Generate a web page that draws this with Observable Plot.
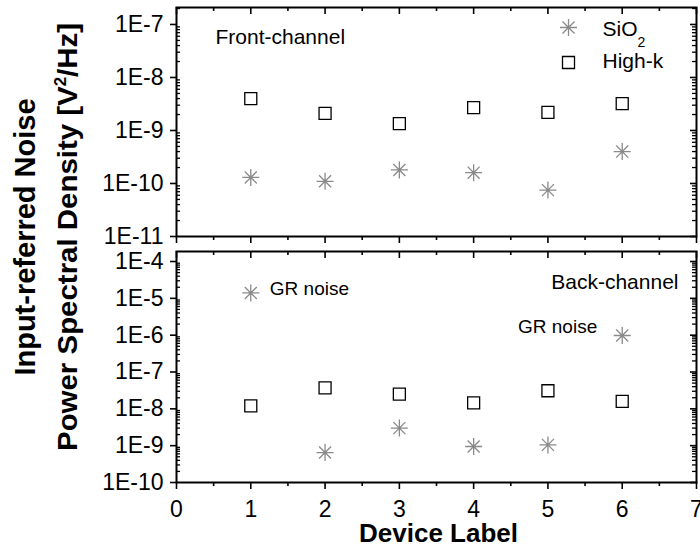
<!DOCTYPE html>
<html>
<head>
<meta charset="utf-8">
<script src="https://cdn.jsdelivr.net/npm/d3@7"></script>
<script src="https://cdn.jsdelivr.net/npm/@observablehq/plot@0.6"></script>
<style>
  body { margin: 0; background: #fff; }
  #chart { position: relative; width: 700px; height: 548px; font-family: "Liberation Sans", Arial, sans-serif; }
  #chart svg { position: absolute; left: 0; overflow: visible; }
</style>
</head>
<body>
<div id="chart"></div>
<script>
// ---- data ----
const devices = [1, 2, 3, 4, 5, 6];
const frontSiO2 = [1.3e-10, 1.1e-10, 1.8e-10, 1.6e-10, 7.5e-11, 4.0e-10];
const frontHighK = [4.0e-9, 2.1e-9, 1.35e-9, 2.7e-9, 2.2e-9, 3.2e-9];
const backSiO2 = [1.4e-5, 6.5e-10, 3.0e-9, 9.5e-10, 1.05e-9, 9.8e-7];
const backHighK = [1.2e-8, 3.7e-8, 2.5e-8, 1.45e-8, 3.1e-8, 1.6e-8];
const grNoiseDevices = [1, 6];
const xTicks = [0, 1, 2, 3, 4, 5, 6, 7];
const xMinorTicks = [0.5, 1.5, 2.5, 3.5, 4.5, 5.5, 6.5];
const frontDecades = [1e-11, 1e-10, 1e-9, 1e-8, 1e-7];
const backDecades = [1e-10, 1e-9, 1e-8, 1e-7, 1e-6, 1e-5, 1e-4];
const frontDomain = [1e-11, 2.09e-7];
const backDomain = [1e-10, 1.87e-4];
const seriesNames = ["SiO", "High-k"];

// ---- symbols ----
const asterisk8 = {
  draw(ctx, size) {
    const r = Math.sqrt(size / Math.PI);
    for (let k = 0; k < 4; k++) {
      const a = k * Math.PI / 4, c = Math.cos(a) * r, s = Math.sin(a) * r;
      ctx.moveTo(-c, -s); ctx.lineTo(c, s);
    }
  }
};
const squareOpen = {
  draw(ctx, size) {
    const r = Math.sqrt(size / Math.PI);
    ctx.moveTo(-r, -r); ctx.lineTo(r, -r); ctx.lineTo(r, r); ctx.lineTo(-r, r); ctx.closePath();
  }
};
const GRAY = "#8a8a8a";
const W = 700, ML = 176, MR = 4, FW = W - ML - MR;
const FONT = "'Liberation Sans', Arial, sans-serif";

function rows(vals) { return devices.map((d, i) => ({device: d, value: vals[i]})); }
function minorOf(decades, domain) {
  const out = [];
  decades.forEach(d => { for (let k = 2; k <= 9; k++) { const v = d * k; if (v <= domain[1]) out.push(v); } });
  return out;
}

function panel({height, mt, mb, decades, domain, sio2, highk, showX, extra}) {
  const FH = height - mt - mb;
  const minor = minorOf(decades, domain);
  const marks = [
    Plot.tickY(decades, {y: d => d, insetLeft: -6, insetRight: FW, strokeWidth: 1.6}),
    Plot.tickY(minor, {y: d => d, insetRight: FW - 4, strokeWidth: 1.3}),
    Plot.tickY(decades, {y: d => d, insetLeft: FW - 6, strokeWidth: 1.6}),
    Plot.tickY(minor, {y: d => d, insetLeft: FW - 4, strokeWidth: 1.3}),
    Plot.tickX(xTicks, {x: d => d, insetTop: FH, insetBottom: -7, strokeWidth: 1.6}),
    Plot.tickX(xMinorTicks, {x: d => d, insetTop: FH, insetBottom: -4, strokeWidth: 1.6}),
    Plot.tickX(xTicks, {x: d => d, insetBottom: FH - 7, strokeWidth: 1.6}),
    Plot.tickX(xMinorTicks, {x: d => d, insetBottom: FH - 4, strokeWidth: 1.6}),
    Plot.frame({stroke: "black", strokeWidth: 2}),
    Plot.axisY({ticks: decades, tickSize: 0, tickPadding: 13, label: null,
      tickFormat: d => "1E" + Math.round(Math.log10(d)), fontSize: 23}),
    Plot.dot(rows(highk), {x: "device", y: "value", symbol: squareOpen, r: 6, stroke: "black", strokeWidth: 1.3, fill: "none"}),
    Plot.dot(rows(sio2), {x: "device", y: "value", symbol: asterisk8, r: 8.5, stroke: GRAY, strokeWidth: 1.3, fill: "none"}),
    ...extra
  ];
  if (showX) {
    marks.push(Plot.axisX({ticks: xTicks, tickSize: 0, tickPadding: 18, label: null, tickFormat: d => String(d), fontSize: 23}));
  }
  return Plot.plot({
    width: W, height,
    marginTop: mt, marginBottom: mb, marginLeft: ML, marginRight: MR,
    x: {domain: [0, 7], axis: showX ? undefined : null},
    y: {type: "log", domain},
    style: {fontFamily: FONT, fontSize: "22px", background: "transparent", color: "black", overflow: "visible"},
    marks
  });
}

const topPanel = panel({
  height: 243, mt: 7, mb: 7, decades: frontDecades, domain: frontDomain,
  sio2: frontSiO2, highk: frontHighK, showX: false,
  extra: [
    Plot.text(["Front-channel"], {text: d => d, frameAnchor: "top-left", textAnchor: "start", lineAnchor: "bottom", dx: 39, dy: 36, fontSize: 21}),
    Plot.dot([seriesNames[0]], {frameAnchor: "top-right", dx: -128, dy: 20, symbol: asterisk8, r: 8.5, stroke: GRAY, strokeWidth: 1.3, fill: "none"}),
    Plot.text([seriesNames[0]], {text: d => d, frameAnchor: "top-right", textAnchor: "start", lineAnchor: "bottom", dx: -94, dy: 28, fontSize: 21}),
    Plot.text(["2"], {text: d => d, frameAnchor: "top-right", textAnchor: "start", lineAnchor: "bottom", dx: -59, dy: 39, fontSize: 14}),
    Plot.dot([seriesNames[1]], {frameAnchor: "top-right", dx: -128, dy: 55, symbol: squareOpen, r: 6, stroke: "black", strokeWidth: 1.3, fill: "none"}),
    Plot.text([seriesNames[1]], {text: d => d, frameAnchor: "top-right", textAnchor: "start", lineAnchor: "bottom", dx: -94, dy: 60, fontSize: 21})
  ]
});
topPanel.style.top = "0px";

const grRows = grNoiseDevices.map(d => ({device: d, value: backSiO2[d - 1], label: "GR noise"}));
const bottomPanel = panel({
  height: 305, mt: 8, mb: 66, decades: backDecades, domain: backDomain,
  sio2: backSiO2, highk: backHighK, showX: true,
  extra: [
    Plot.text(["Back-channel"], {text: d => d, frameAnchor: "top-right", textAnchor: "end", lineAnchor: "bottom", dx: -18, dy: 37, fontSize: 21}),
    Plot.text(grRows.filter(d => d.device === 1), {x: "device", y: "value", text: "label", textAnchor: "start", dx: 19, dy: -4, fontSize: 19}),
    Plot.text(grRows.filter(d => d.device === 6), {x: "device", y: "value", text: "label", textAnchor: "end", dx: -25, dy: -9, fontSize: 19}),
    Plot.text(["Device Label"], {text: d => d, frameAnchor: "bottom", lineAnchor: "bottom", dx: 2, dy: 59, fontSize: 26, fontWeight: "bold"})
  ]
});
bottomPanel.style.top = "243px";

const chart = document.getElementById("chart");
chart.appendChild(topPanel);
chart.appendChild(bottomPanel);

// y-axis title
const ns = "http://www.w3.org/2000/svg";
const ysvg = document.createElementNS(ns, "svg");
ysvg.setAttribute("width", 100); ysvg.setAttribute("height", 548);
ysvg.style.top = "0px";
const ff = FONT.replace(/'/g, "&quot;");
ysvg.innerHTML =
  `<text transform="translate(35,237) rotate(-90)" text-anchor="middle" font-family="${ff}" font-size="29" font-weight="bold">Input-referred Noise</text>` +
  `<text transform="translate(77,237) rotate(-90)" text-anchor="middle" font-family="${ff}" font-size="28" font-weight="bold" textLength="428" lengthAdjust="spacingAndGlyphs">Power Spectral Density [V<tspan font-size="16" dy="-11">2</tspan><tspan dy="11">/Hz]</tspan></text>`;
chart.appendChild(ysvg);
</script>
</body>
</html>
